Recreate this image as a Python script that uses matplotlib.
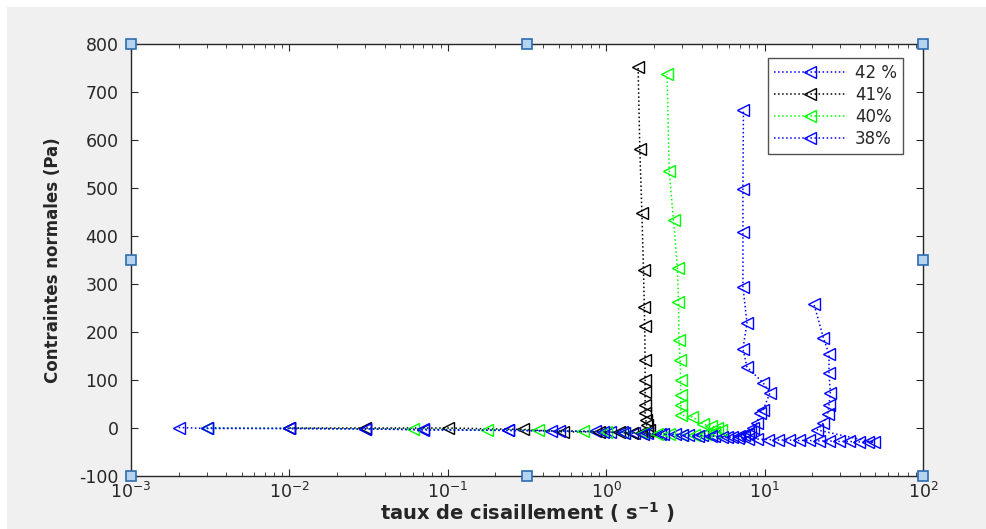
import numpy as np
import matplotlib.pyplot as plt
from matplotlib.patches import Rectangle
from matplotlib.ticker import LogLocator, MultipleLocator, NullFormatter

plt.rcParams['font.family'] = ['DejaVu Sans']
plt.rcParams['mathtext.fontset'] = 'dejavusans'
plt.rcParams['axes.unicode_minus'] = False

# 42 %  (blue)
x42 = [0.002, 0.003, 0.01, 0.03, 0.07, 0.24, 0.45, 0.85, 1.05, 1.25, 1.5, 1.8, 2.2, 2.7,
       3.3, 4.0, 4.8, 5.8, 6.8, 7.8, 9.0, 10.5, 12.2, 14.2, 16.5, 19.0, 22.0, 25.5, 29.5,
       34.0, 39.5, 45.0, 49.0, 21.5, 23.5, 25.0, 25.5, 26.0, 25.5, 25.5, 23.5, 20.5]
y42 = [1, -1, -1, -2, -4, -5, -6, -7, -8, -9, -10, -11, -12, -13,
       -14, -15, -17, -19, -21, -22, -23, -24, -25, -25, -26, -26, -27, -27, -28,
       -28, -29, -29, -30, -4, 10, 30, 48, 73, 115, 154, 188, 258]

# 41 %  (black)
x41 = [0.01, 0.03, 0.1, 0.3, 0.53, 0.9, 1.2, 1.45, 1.65, 1.8, 1.85, 1.8, 1.78, 1.76,
       1.76, 1.76, 1.76, 1.76, 1.75, 1.74, 1.72, 1.68, 1.63, 1.59]
y41 = [0, 0, 0, -3, -8, -8, -9, -10, -10, -6, -4, 6, 17, 31,
       48, 75, 100, 142, 212, 252, 329, 448, 581, 752]

# 40 %  (green)
x40 = [0.003, 0.06, 0.177, 0.37, 0.71, 1.0, 1.3, 1.7, 2.1, 2.5, 3.0, 3.6, 4.2, 4.8, 5.3,
       5.0, 4.6, 4.1, 3.5, 2.96, 2.96, 2.95, 2.95, 2.93, 2.88, 2.86, 2.82, 2.66, 2.5, 2.42]
y40 = [0, -2, -4, -5, -7, -8, -10, -11, -12, -13, -14, -14, -12, -8, -4,
       0, 4, 8, 23, 27, 48, 69, 100, 142, 183, 262, 333, 433, 535, 737]

# 38 %  (blue)
x38 = [0.003, 0.01, 0.03, 0.07, 0.24, 0.5, 0.95, 1.3, 1.7, 2.3, 3.0, 3.8, 4.6, 5.4, 6.2,
       6.9, 7.4, 7.8, 8.1, 8.45, 8.95, 9.36, 9.8, 10.8, 9.8, 7.74, 7.3, 7.74, 7.3, 7.3,
       7.3, 7.35]
y38 = [0, -1, -2, -3, -5, -6, -8, -10, -12, -13, -15, -16, -17, -18, -18,
       -17, -15, -12, -8, 0, 10, 31, 38, 73, 94, 127, 165, 219, 294, 408,
       498, 662]

labels = ['42 %', '41%', '40%', '38%']
colors = ['#0000ff', '#000000', '#00ff00', '#0000ff']

fig = plt.figure(figsize=(9.87, 5.29), dpi=100, facecolor='white')
fig.add_artist(Rectangle((7 / 987, 0), 1, 1 - 7 / 529, transform=fig.transFigure,
                         facecolor='#f0f0f0', edgecolor='none', zorder=-10))
ax = fig.add_axes([131 / 987, 53 / 529, 792 / 987, 432 / 529])
ax.set_facecolor('white')

for xs, ys, lab, c in zip([x42, x41, x40, x38], [y42, y41, y40, y38], labels, colors):
    ax.plot(xs, ys, ':', color=c, lw=1.1, marker='<', ms=9, mfc='none',
            mec=c, mew=1.0, label=lab)

ax.set_xscale('log')
ax.set_xlim(1e-3, 1e2)
ax.set_ylim(-100, 800)
ax.yaxis.set_major_locator(MultipleLocator(100))
ax.xaxis.set_major_locator(LogLocator(base=10, numticks=10))
ax.xaxis.set_minor_locator(LogLocator(base=10, subs=np.arange(2, 10), numticks=20))
ax.xaxis.set_minor_formatter(NullFormatter())

for s in ax.spines.values():
    s.set_color('#262626')
    s.set_linewidth(1.0)
ax.tick_params(which='both', direction='in', top=True, right=True, colors='#262626',
               labelsize=12.5)
ax.tick_params(which='major', length=5)
ax.tick_params(which='minor', length=3)
ax.tick_params(axis='x', pad=4)
ax.tick_params(axis='y', pad=9)

ax.set_xlabel('taux de cisaillement ( s$^{\\mathbf{-1}}$ )', fontsize=14,
              fontweight='bold', color='#262626', labelpad=-1)
ax.set_ylabel('Contraintes normales (Pa)', fontsize=12, fontweight='bold',
              color='#262626', labelpad=12)

leg = ax.legend(loc='upper right', bbox_to_anchor=(1 - 20 / 792, 1 - 14 / 432),
                borderaxespad=0, fontsize=12, frameon=True, fancybox=False,
                handlelength=4.4, labelspacing=0.25, borderpad=0.35,
                handletextpad=0.5)
leg.get_frame().set_edgecolor('#262626')
leg.get_frame().set_linewidth(1.0)
for t in leg.get_texts():
    t.set_color('#262626')

# selection handles of the figure editor
hx = [0, 0.5, 1, 0, 1, 0, 0.5, 1]
hy = [1, 1, 1, 0.5, 0.5, 0, 0, 0]
ax.plot(hx, hy, 's', ms=7, mfc='#b5d3ee', mec='#2a6cb0', mew=1.2,
        transform=ax.transAxes, clip_on=False, zorder=10)

fig.savefig('out.png', dpi=100, facecolor=fig.get_facecolor())
